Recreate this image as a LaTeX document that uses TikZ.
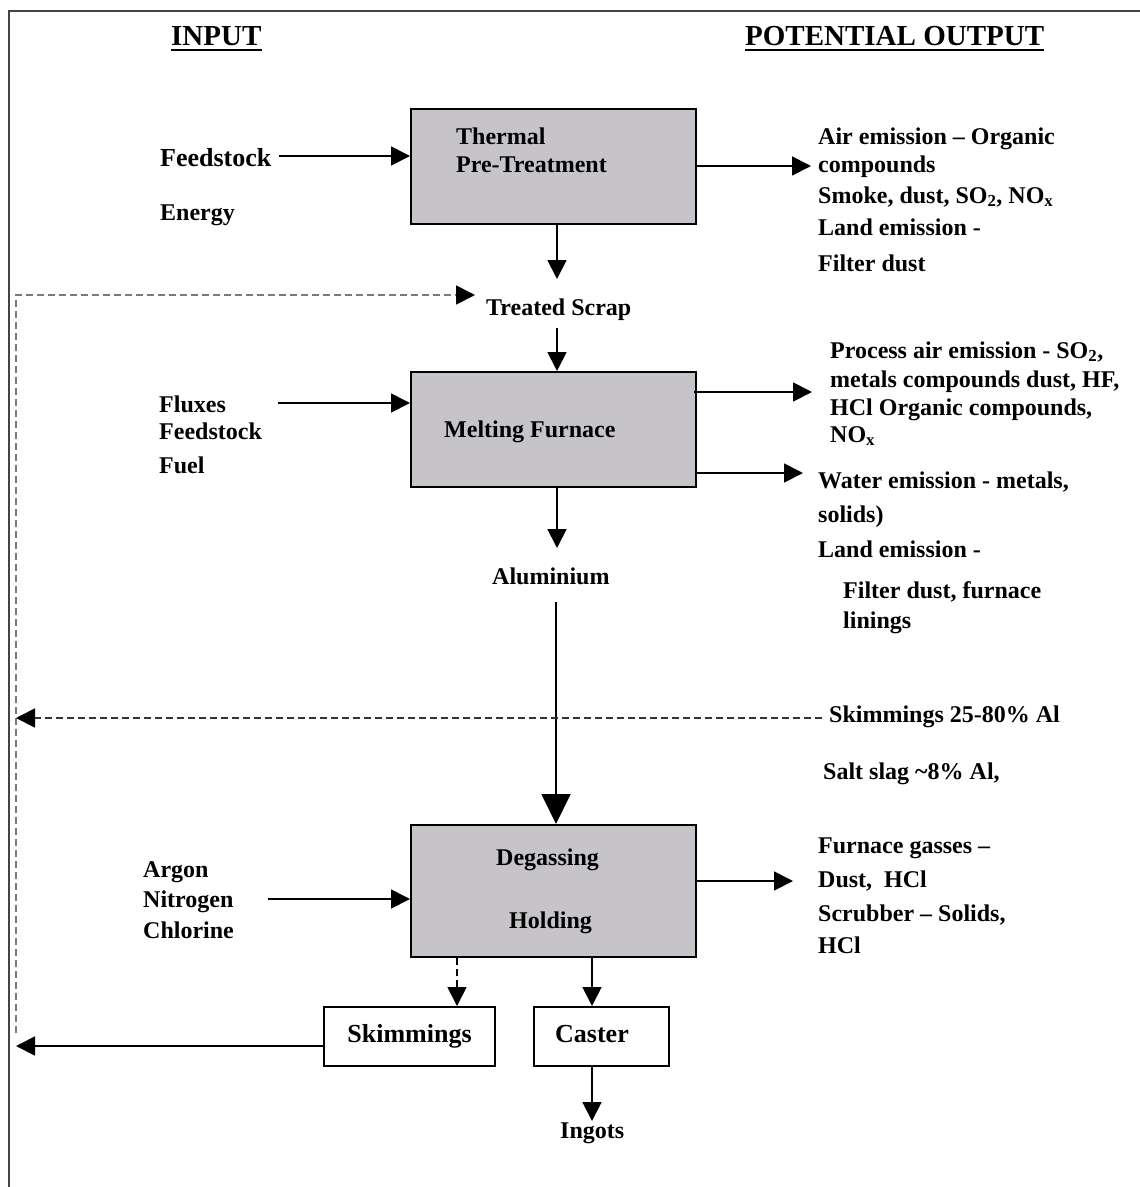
\documentclass[tikz,border=0pt]{standalone}
\usepackage{fontspec}
\setmainfont{Liberation Serif}
\usetikzlibrary{arrows.meta}
\definecolor{boxgray}{HTML}{C6C4C8}
\definecolor{dashgray}{HTML}{7A7A7A}
\definecolor{framegray}{HTML}{444444}
\begin{document}
\begin{tikzpicture}[x=1pt,y=-1pt,
 txt/.style={font=\fontsize{24}{28}\selectfont\bfseries, inner sep=0pt, anchor=base west},
 wtxt/.style={font=\fontsize{26}{30}\selectfont\bfseries, inner sep=0pt, anchor=base west},
 head/.style={font=\fontsize{29}{33}\selectfont\bfseries, inner sep=0pt, anchor=base west},
 procbox/.style={draw=black, line width=2pt, fill=boxgray, inner sep=0pt},
 plainbox/.style={draw=black, line width=2pt, fill=white, inner sep=0pt},
 arr/.style={line width=1.8pt, -{Triangle[length=19pt,width=19pt]}},
 bigarr/.style={line width=1.8pt, -{Triangle[length=30pt,width=29pt]}},
 dasharr/.style={line width=1.8pt, dashgray, dash pattern=on 7pt off 4pt, -{Triangle[length=19pt,width=19pt,color=black]}},
 darkdash/.style={line width=1.8pt, black!80, dash pattern=on 7pt off 4pt, -{Triangle[length=19pt,width=19pt,color=black]}},
]
\useasboundingbox (0,0) rectangle (1140,1187);
\fill[white] (0,0) rectangle (1140,1187);
% frame
\draw[framegray, line width=2pt] (9,1187) -- (9,11) -- (1140,11);

% headings
\node[head] (inputhead) at (171,45) {INPUT};
\node[head] (outhead) at (745,45) {POTENTIAL OUTPUT};
\draw[line width=2pt] ([yshift=-5pt]inputhead.base west) -- ([yshift=-5pt]inputhead.base east);
\draw[line width=2pt] ([yshift=-5pt]outhead.base west) -- ([yshift=-5pt]outhead.base east);

% process boxes
\node[procbox, minimum width=285pt, minimum height=115pt] (thermal) at (553.5,166.5) {};
\node[procbox, minimum width=285pt, minimum height=115pt] (melting) at (553.5,429.5) {};
\node[procbox, minimum width=285pt, minimum height=132pt] (degassing) at (553.5,891) {};
\node[plainbox, minimum width=171pt, minimum height=59pt, font=\fontsize{26}{30}\selectfont\bfseries] (skimbox) at (409.5,1036.5) {Skimmings};
\node[plainbox, minimum width=135pt, minimum height=59pt] (caster) at (601.5,1036.5) {};

% box texts
\node[txt] (thermalA) at (456,144) {Thermal};
\node[txt] (thermalB) at (456,172) {Pre-Treatment};
\node[txt] (meltingtxt) at (444,437) {Melting Furnace};
\node[txt] (degA) at (496,865) {Degassing};
\node[txt] (degB) at (509,928) {Holding};
\node[wtxt] (castertxt) at (555,1042) {Caster};

% inputs
\node[wtxt] (feed1) at (160,166) {Feedstock};
\node[txt] (energy) at (160,220) {Energy};
\node[txt] (fluxes) at (159,412) {Fluxes};
\node[txt] (feed2) at (159,439) {Feedstock};
\node[txt] (fuel) at (159,473) {Fuel};
\node[txt] (argon) at (143,877) {Argon};
\node[txt] (nitrogen) at (143,907) {Nitrogen};
\node[txt] (chlorine) at (143,938) {Chlorine};

% intermediate products
\node[txt] (treated) at (486,315) {Treated Scrap};
\node[txt] (alu) at (492,584) {Aluminium};
\node[txt] (ingots) at (560,1138) {Ingots};

% outputs
\node[txt] (o1a) at (818,144) {Air emission – Organic};
\node[txt] (o1b) at (818,172) {compounds};
\node[txt] (o1c) at (818,203) {Smoke, dust, SO\textsubscript{2}, NO\textsubscript{x}};
\node[txt] (o1d) at (818,235) {Land emission -};
\node[txt] (o1e) at (818,271) {Filter dust};

\node[txt] (o2a) at (830,358) {Process air emission - SO\textsubscript{2},};
\node[txt] (o2b) at (830,387) {metals compounds dust, HF,};
\node[txt] (o2c) at (830,415) {HCl Organic compounds,};
\node[txt] (o2d) at (830,442) {NO\textsubscript{x}};
\node[txt] (o3a) at (818,488) {Water emission - metals,};
\node[txt] (o3b) at (818,522) {solids)};
\node[txt] (o3c) at (818,557) {Land emission -};
\node[txt] (o3d) at (843,598) {Filter dust, furnace};
\node[txt] (o3e) at (843,628) {linings};

\node[txt] (skim2) at (829,722) {Skimmings 25-80\% Al};
\node[txt] (slag) at (823,779) {Salt slag \textasciitilde8\% Al,};

\node[txt] (o4a) at (818,853) {Furnace gasses –};
\node[txt] (o4b) at (818,887) {Dust,\ \ HCl};
\node[txt] (o4c) at (818,921) {Scrubber – Solids,};
\node[txt] (o4d) at (818,953) {HCl};

% connector coordinates
\coordinate (fsA) at (279,156);
\coordinate (thOut) at (811,166);
\coordinate (thDown) at (557,279);
\coordinate (loopBot) at (16,1033);
\coordinate (loopTip) at (475,295);
\coordinate (tsTop) at (557,328);
\coordinate (flA) at (278,403);
\coordinate (mOut1) at (812,392);
\coordinate (mOut2) at (803,473);
\coordinate (mDown) at (557,548);
\coordinate (aluBot) at (556,602);
\coordinate (skimTip) at (16,718);
\coordinate (skimStart) at (822,718);
\coordinate (arA) at (268,899);
\coordinate (dOut) at (793,881);
\coordinate (skimX) at (457,1007);
\coordinate (sideTip) at (16,1046);
\coordinate (ingTip) at (592,1121);

% connectors
\draw[arr] (fsA) -- (fsA -| thermal.west);
\draw[arr] (thermal.east |- thOut) -- (thOut);
\draw[arr] (thermal.south -| thDown) -- (thDown);
\draw[dasharr] (loopBot) -- (loopBot |- loopTip) -- (loopTip);
\draw[arr] (tsTop) -- (tsTop |- melting.north);
\draw[arr] (flA) -- (flA -| melting.west);
\draw[arr] ([xshift=-3pt]melting.east |- mOut1) -- (mOut1);
\draw[arr] (melting.east |- mOut2) -- (mOut2);
\draw[arr] (melting.south -| mDown) -- (mDown);
\draw[bigarr] (aluBot) -- (aluBot |- degassing.north);
\draw[darkdash] (skimStart) -- (skimTip);
\draw[arr] (arA) -- (arA -| degassing.west);
\draw[arr] (degassing.east |- dOut) -- (dOut);
\draw[arr, dash pattern=on 7pt off 4pt] (degassing.south -| skimX) -- (skimbox.north -| skimX);
\draw[arr] (degassing.south -| ingTip) -- (caster.north -| ingTip);
\draw[arr] (skimbox.west |- sideTip) -- (sideTip);
\draw[arr] (caster.south -| ingTip) -- (ingTip);
\end{tikzpicture}
\end{document}
